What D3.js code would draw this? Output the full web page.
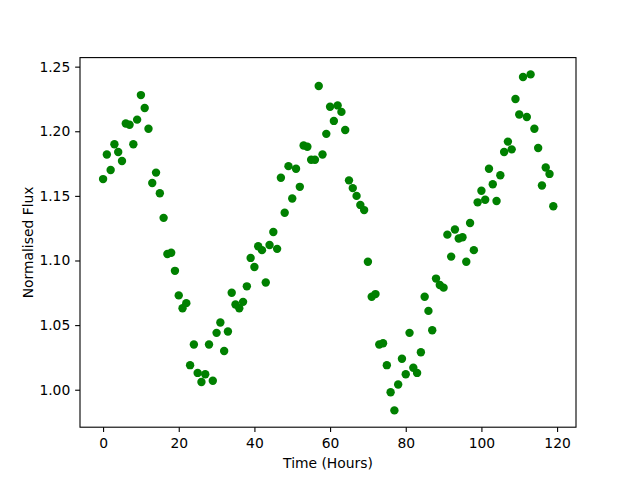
<!DOCTYPE html>
<html>
<head>
<meta charset="utf-8">
<script src="https://cdn.jsdelivr.net/npm/d3@7"></script>
<style>
  html, body { margin: 0; padding: 0; background: #fff; }
  svg { display: block; }
  text { font-family: "DejaVu Sans", sans-serif; fill: #000; }
</style>
</head>
<body>
<svg id="chart" width="640" height="480"></svg>
<script>
const hours = [0,1,2,3,4,5,6,7,8,9,10,11,12,13,14,15,16,17,18,19,
  20,21,22,23,24,25,26,27,28,29,30,31,32,33,34,35,36,37,38,39,
  40,41,42,43,44,45,46,47,48,49,50,51,52,53,54,55,56,57,58,59,
  60,61,62,63,64,65,66,67,68,69,70,71,72,73,74,75,76,77,78,79,
  80,81,82,83,84,85,86,87,88,89,90,91,92,93,94,95,96,97,98,99,
  100,101,102,103,104,105,106,107,108,109,110,111,112,113,114,115,116,117,118,119];

const flux = [1.163,1.182,1.170,1.190,1.184,1.177,1.206,1.205,1.190,1.209,
  1.228,1.218,1.202,1.160,1.168,1.152,1.133,1.105,1.106,1.092,
  1.073,1.063,1.067,1.019,1.035,1.013,1.006,1.012,1.035,1.007,
  1.044,1.052,1.030,1.045,1.075,1.066,1.063,1.068,1.080,1.102,
  1.095,1.111,1.108,1.083,1.112,1.122,1.109,1.164,1.137,1.173,
  1.148,1.171,1.157,1.189,1.188,1.178,1.178,1.235,1.182,1.198,
  1.219,1.208,1.220,1.215,1.201,1.162,1.156,1.150,1.143,1.139,
  1.099,1.072,1.074,1.035,1.036,1.019,0.998,0.984,1.004,1.024,
  1.012,1.044,1.017,1.013,1.029,1.072,1.061,1.046,1.086,1.081,
  1.079,1.120,1.103,1.124,1.117,1.118,1.099,1.129,1.108,1.145,
  1.154,1.147,1.171,1.159,1.146,1.166,1.184,1.192,1.186,1.225,
  1.213,1.242,1.211,1.244,1.202,1.187,1.158,1.172,1.167,1.142];

const xTicks = [0, 20, 40, 60, 80, 100, 120];
const yTicks = [1.00, 1.05, 1.10, 1.15, 1.20, 1.25];
const xLabel = "Time (Hours)";
const yLabel = "Normalised Flux";

const svg = d3.select("#chart");
const L = 80, R = 576, T = 57.6, B = 427.2;
const fs = 13.89;
const tick = 4.86;

const x = d3.scaleLinear().domain([-6.1, 125.0]).range([L, R]);
const y = d3.scaleLinear().domain([0.971, 1.257]).range([B, T]);

// points
svg.append("g").selectAll("circle")
  .data(hours.map((h, i) => [h, flux[i]]))
  .join("circle")
  .attr("cx", d => x(d[0]))
  .attr("cy", d => y(d[1]))
  .attr("r", 4.2)
  .attr("fill", "#008000");

// axes
const xAxis = d3.axisBottom(x).tickValues(xTicks).tickFormat(d3.format("d"))
  .tickSize(tick).tickSizeOuter(0).tickPadding(6.5);
const gx = svg.append("g").attr("transform", `translate(0,${B})`).call(xAxis);
gx.select(".domain").remove();
gx.selectAll("line").attr("stroke", "#000").attr("stroke-width", 1.1);
gx.selectAll("text").attr("font-size", fs).attr("font-family", "DejaVu Sans");

const yAxis = d3.axisLeft(y).tickValues(yTicks).tickFormat(d3.format(".2f"))
  .tickSize(tick).tickSizeOuter(0).tickPadding(4.86);
const gy = svg.append("g").attr("transform", `translate(${L},0)`).call(yAxis);
gy.select(".domain").remove();
gy.selectAll("line").attr("stroke", "#000").attr("stroke-width", 1.1);
gy.selectAll("text").attr("font-size", fs).attr("font-family", "DejaVu Sans");

// frame
svg.append("rect").attr("x", L).attr("y", T).attr("width", R - L).attr("height", B - T)
  .attr("fill", "none").attr("stroke", "#000").attr("stroke-width", 1.1);

// labels
svg.append("text").attr("x", (L + R) / 2).attr("y", 467.5)
  .attr("text-anchor", "middle").attr("font-size", fs).text(xLabel);
svg.append("text")
  .attr("transform", `translate(32.5,${(T + B) / 2}) rotate(-90)`)
  .attr("text-anchor", "middle").attr("font-size", fs).text(yLabel);
</script>
</body>
</html>
